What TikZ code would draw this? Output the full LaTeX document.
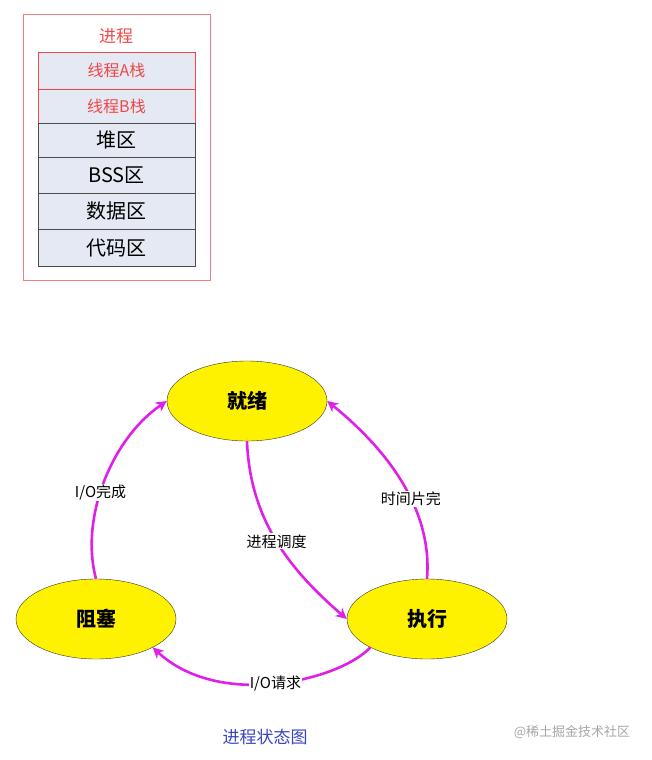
\documentclass[tikz,border=0pt]{standalone}
\usepackage{fontspec}
\setmainfont{Liberation Serif}
\newfontfamily\cjk{Noto Sans CJK SC}
\usetikzlibrary{arrows.meta,shapes.geometric}
\definecolor{rowfill}{HTML}{E4E9F3}
\definecolor{boxred}{HTML}{F04848}
\definecolor{arc}{HTML}{E020E8}
\definecolor{capblue}{HTML}{3B44C0}
\tikzset{
  seg/.style={draw=#1, fill=rowfill, minimum width=157pt, inner sep=0pt, anchor=north},
  state/.style={ellipse, draw=black!80, fill=yellow, minimum width=160pt, minimum height=80pt, font=\cjk\fontsize{20}{20}\selectfont\bfseries},
  move/.style={draw=arc, line width=2.6pt, -{Stealth[length=11pt,width=11pt]}},
  tag/.style={fill=white, inner sep=1pt, font=\cjk\fontsize{15}{15}\selectfont}
}
\begin{document}
\begin{tikzpicture}[x=1pt,y=-1pt]
      \useasboundingbox (0,0) rectangle (652,760);
      % process memory layout
      \draw [boxred!70] (23,14) rectangle (210,280);
      \node [text=boxred, font=\cjk\fontsize{17}{17}\selectfont] (proc) at (116,36) {进程};
      \node [seg=boxred, minimum height=37pt, text=boxred, font=\cjk\fontsize{16}{16}\selectfont] (stackA) at (116.5,52) {线程A栈};
      \node [seg=boxred, minimum height=34pt, text=boxred, font=\cjk\fontsize{16}{16}\selectfont] (stackB) at (116.5,89) {线程B栈};
      \node [seg=black!70, minimum height=34pt, font=\cjk\fontsize{20}{20}\selectfont] (heap) at (116.5,123) {堆区};
      \node [seg=black!70, minimum height=36pt, font=\cjk\fontsize{20}{20}\selectfont] (bss) at (116.5,157) {BSS区};
      \node [seg=black!70, minimum height=36pt, font=\cjk\fontsize{20}{20}\selectfont] (data) at (116.5,193) {数据区};
      \node [seg=black!70, minimum height=37pt, font=\cjk\fontsize{20}{20}\selectfont] (code) at (116.5,229) {代码区};
      % state diagram
      \node [state] (ready) at (247,401) {就绪};
      \node [state] (blocked) at (96,619) {阻塞};
      \node [state] (run) at (427,619) {执行};
      \draw [move] (blocked.north) .. controls (80,520) and (110,440) .. (ready.west)
        node [tag, pos=0.45] (tdone) {I/O完成};
      \draw [move] (ready.south) .. controls (250,520) and (290,570) .. (run.west)
        node [tag, pos=0.5] (tsched) {进程调度};
      \draw [move] (run.north) .. controls (432,520) and (400,460) .. (ready.east)
        node [tag, pos=0.45] (tslice) {时间片完};
      \draw [move] (run.south west) .. controls (340,680) and (220,710) .. (blocked.south east)
        node [tag, pos=0.5] (treq) {I/O请求};
      \node [text=capblue, font=\cjk\fontsize{17}{17}\selectfont] (caption) at (265,737) {进程状态图};
      \node [text=black!35, font=\cjk\fontsize{13}{13}\selectfont] (mark) at (572,732) {@稀土掘金技术社区};
\end{tikzpicture}
\end{document}
